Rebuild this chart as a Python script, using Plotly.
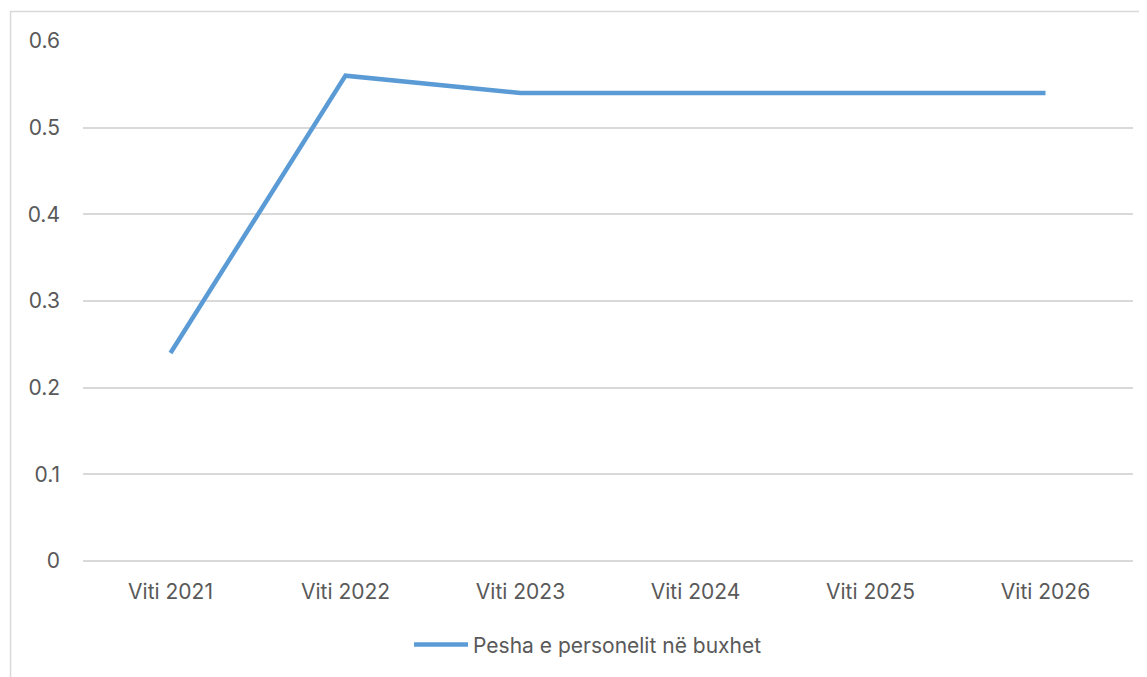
import plotly.graph_objects as go

years = ["Viti 2021", "Viti 2022", "Viti 2023", "Viti 2024", "Viti 2025", "Viti 2026"]
pesha = [0.24, 0.56, 0.54, 0.54, 0.54, 0.54]
series_name = "Pesha e personelit në buxhet"

line_color = "#5B9BD5"
grid_color = "#D9D9D9"
text_color = "#595959"

fig = go.Figure()
fig.add_trace(go.Scatter(
    x=years,
    y=pesha,
    mode="lines",
    name=series_name,
    line=dict(color=line_color, width=4.5),
))

# page body has an 8px margin, so margins are shifted to compensate
fig.update_layout(
    width=1147,
    height=677,
    margin=dict(l=75, r=22, t=33, b=124, autoexpand=False),
    paper_bgcolor="white",
    plot_bgcolor="white",
    font=dict(family="Inter, Open Sans, sans-serif", size=21, color=text_color),
    showlegend=True,
    legend=dict(
        orientation="h",
        x=0.481, xanchor="center",
        y=-0.122, yanchor="top",
        font=dict(size=21, color=text_color),
        itemwidth=54,
    ),
    shapes=[dict(
        type="rect", xref="paper", yref="paper",
        x0=-0.069, x1=1.2, y0=-0.4, y1=1.0567,
        line=dict(color="#D9D9D9", width=1.5),
        layer="below",
    )],
)

fig.update_xaxes(
    range=[-0.5, 5.5],
    showgrid=False,
    showline=False,
    ticks="",
    ticklabelstandoff=16,
    automargin=False,
)
fig.update_yaxes(
    range=[0, 0.6],
    dtick=0.1,
    showgrid=True,
    gridcolor=grid_color,
    gridwidth=1.5,
    zeroline=True,
    zerolinecolor=grid_color,
    zerolinewidth=1.5,
    showline=False,
    ticks="",
    ticklabelstandoff=22,
    automargin=False,
)

fig.write_html("out.html")
